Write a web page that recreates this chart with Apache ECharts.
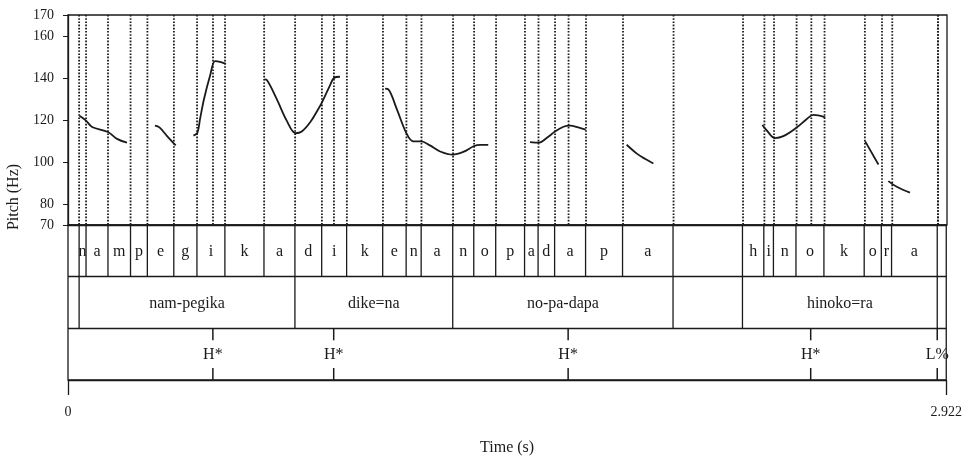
<!DOCTYPE html>
<html><head><meta charset="utf-8">
<script src="https://cdn.jsdelivr.net/npm/echarts@6/dist/echarts.min.js"></script>
<style>html,body{margin:0;padding:0;background:#fff}#c{width:965px;height:457px}</style>
</head><body><div id="c"></div>
<script>
const timeMax = 2.922;
const pitchTicks = [70, 80, 100, 120, 140, 160, 170];
const phoneBounds = [0, 0.037, 0.060, 0.133, 0.208, 0.264, 0.352, 0.429, 0.522, 0.652, 0.755, 0.844, 0.927, 1.047, 1.125, 1.175, 1.280, 1.350, 1.423, 1.519, 1.564, 1.619, 1.722, 1.845, 2.013, 2.244, 2.315, 2.347, 2.422, 2.515, 2.649, 2.706, 2.740, 2.892, 2.922];
const phoneLabels = ['', 'n', 'a', 'm', 'p', 'e', 'g', 'i', 'k', 'a', 'd', 'i', 'k', 'e', 'n', 'a', 'n', 'o', 'p', 'a', 'd', 'a', 'p', 'a', '', 'h', 'i', 'n', 'o', 'k', 'o', 'r', 'a', ''];
const wordBounds = [0, 0.037, 0.755, 1.280, 2.013, 2.244, 2.892, 2.922];
const wordLabels = ['', 'nam-pegika', 'dike=na', 'no-pa-dapa', '', 'hinoko=ra', ''];
const toneTimes = [0.482, 0.884, 1.664, 2.471, 2.892];
const toneLabels = ['H*', 'H*', 'H*', 'H*', 'L%'];

const pitchSeg1 = [[0.038,122.0],[0.060,119.7],[0.080,116.7],[0.133,114.3],[0.163,111.0],[0.196,109.2]];
const pitchSeg2 = [[0.289,117.3],[0.304,116.5],[0.328,112.6],[0.358,107.9]];
const pitchSeg3 = [[0.417,112.6],[0.430,113.9],[0.439,120.5],[0.452,129.9],[0.472,140.9],[0.489,148.0],[0.505,147.7],[0.525,146.7]];
const pitchSeg4 = [[0.653,139.3],[0.661,139.0],[0.694,129.9],[0.727,119.7],[0.757,113.7],[0.777,114.5],[0.805,118.9],[0.832,125.2],[0.843,128.0],[0.871,136.5],[0.884,140.0],[0.904,140.6]];
const pitchSeg5 = [[1.054,134.9],[1.065,134.6],[1.093,125.2],[1.126,113.4],[1.148,109.8],[1.174,109.8],[1.203,107.9],[1.237,105.0],[1.279,103.5],[1.314,104.8],[1.350,107.6],[1.370,108.2],[1.397,108.2]];
const pitchSeg6 = [[1.536,109.5],[1.566,109.2],[1.591,111.4],[1.619,114.5],[1.647,116.8],[1.669,117.3],[1.696,116.5],[1.721,115.4]];
const pitchSeg7 = [[1.857,108.2],[1.891,104.0],[1.918,101.5],[1.946,99.3]];
const pitchSeg8 = [[2.308,117.6],[2.323,115.0],[2.350,111.4],[2.378,112.3],[2.423,116.5],[2.456,120.5],[2.478,122.4],[2.517,121.3]];
const pitchSeg9 = [[2.650,109.8],[2.694,98.8]];
const pitchSeg10 = [[2.727,90.9],[2.755,88.2],[2.799,85.4]];
const pitchSegments = [pitchSeg1, pitchSeg2, pitchSeg3, pitchSeg4, pitchSeg5, pitchSeg6, pitchSeg7, pitchSeg8, pitchSeg9, pitchSeg10];

const SERIF = '"Liberation Serif", "DejaVu Serif", serif';
const INK = '#1a1a1a';
const TIER_FONT = '16px ' + SERIF;

function intervalData(bounds, tier) {
  const d = [];
  for (let i = 0; i < bounds.length - 1; i++) d.push([bounds[i], bounds[i + 1], tier]);
  return d;
}
function makeIntervalRender(labels) {
  return function (params, api) {
    const s = api.value(0), e = api.value(1), tier = api.value(2);
    const p0 = api.coord([s, tier]);
    const p1 = api.coord([e, tier + 1]);
    const children = [];
    if (s > 0) {
      children.push({ type: 'line', shape: { x1: p0[0], y1: p0[1], x2: p0[0], y2: p1[1] },
        style: { stroke: INK, lineWidth: 1.3 } });
    }
    const txt = labels[params.dataIndex];
    if (txt) {
      children.push({ type: 'text', x: (p0[0] + p1[0]) / 2, y: (p0[1] + p1[1]) / 2 + 1,
        style: { text: txt, align: 'center', verticalAlign: 'middle', font: TIER_FONT, fill: INK } });
    }
    return { type: 'group', children: children };
  };
}

const dottedTimes = phoneBounds.slice(1, -1).concat(toneTimes);

const chart = echarts.init(document.getElementById('c'), null, { renderer: 'canvas' });
const series = [];
pitchSegments.forEach(function (seg) {
  series.push({ type: 'line', xAxisIndex: 0, yAxisIndex: 0, data: seg, showSymbol: false, symbol: 'none',
    smooth: 0.35, lineStyle: { color: INK, width: 1.8 }, silent: true, z: 5 });
});
series.push({
  type: 'custom', xAxisIndex: 0, yAxisIndex: 0, data: dottedTimes.map(function (t) { return [t]; }), silent: true, z: 3,
  renderItem: function (params, api) {
    const t = api.value(0);
    const a = api.coord([t, 170]), b = api.coord([t, 70]);
    return { type: 'line', shape: { x1: a[0], y1: a[1], x2: b[0], y2: b[1] },
      style: { stroke: INK, lineWidth: 1.8, lineDash: [1.6, 1.6] } };
  }
});
series.push({ type: 'custom', xAxisIndex: 1, yAxisIndex: 1, data: intervalData(phoneBounds, 0), silent: true,
  renderItem: makeIntervalRender(phoneLabels) });
series.push({ type: 'custom', xAxisIndex: 1, yAxisIndex: 1, data: intervalData(wordBounds, 1), silent: true,
  renderItem: makeIntervalRender(wordLabels) });
series.push({
  type: 'custom', xAxisIndex: 1, yAxisIndex: 1, data: toneTimes.map(function (t) { return [t, 2]; }), silent: true,
  renderItem: function (params, api) {
    const t = api.value(0);
    const a = api.coord([t, 2]), b = api.coord([t, 3]);
    return { type: 'group', children: [
      { type: 'line', shape: { x1: a[0], y1: a[1], x2: a[0], y2: a[1] + 12 }, style: { stroke: INK, lineWidth: 1.5 } },
      { type: 'line', shape: { x1: a[0], y1: b[1] - 12, x2: a[0], y2: b[1] }, style: { stroke: INK, lineWidth: 1.5 } },
      { type: 'text', x: a[0], y: (a[1] + b[1]) / 2 + 1,
        style: { text: toneLabels[params.dataIndex], align: 'center', verticalAlign: 'middle', font: TIER_FONT, fill: INK } }
    ] };
  }
});

chart.setOption({
  animation: false,
  backgroundColor: '#fff',
  grid: [
    { left: 68, top: 15, width: 879, height: 210, show: true, borderColor: INK, borderWidth: 1.3, backgroundColor: 'transparent' },
    { left: 68, top: 225, width: 879, height: 155, show: true, borderColor: INK, borderWidth: 1.3, backgroundColor: 'transparent' }
  ],
  xAxis: [
    { type: 'value', gridIndex: 0, min: 0, max: timeMax, show: false },
    { type: 'value', gridIndex: 1, min: 0, max: timeMax, interval: timeMax, position: 'bottom',
      axisLine: { show: false, onZero: false },
      axisTick: { show: true, length: 15, lineStyle: { color: INK, width: 1.3 } },
      axisLabel: { show: true, showMinLabel: true, showMaxLabel: true, margin: 25, fontFamily: SERIF, fontSize: 14, color: INK,
        formatter: function (v) { return v === 0 ? '0' : timeMax.toFixed(3); } },
      splitLine: { show: false },
      name: 'Time (s)', nameLocation: 'middle', nameGap: 60,
      nameTextStyle: { fontFamily: SERIF, fontSize: 16, color: INK } }
  ],
  yAxis: [
    { type: 'value', gridIndex: 0, min: 70, max: 170,
      axisLine: { show: true, lineStyle: { color: INK, width: 1.3 } },
      axisTick: { show: true, length: 5, customValues: pitchTicks, lineStyle: { color: INK } },
      axisLabel: { show: true, customValues: pitchTicks, margin: 14, fontFamily: SERIF, fontSize: 14, color: INK },
      splitLine: { show: false } },
    { type: 'value', gridIndex: 1, min: 0, max: 3, interval: 1, inverse: true,
      axisLine: { show: false, onZero: false }, axisTick: { show: false }, axisLabel: { show: false },
      splitLine: { show: true, lineStyle: { color: INK, width: 1.3 } } }
  ],
  graphic: [
    { type: 'text', x: 14, y: 197, rotation: Math.PI / 2,
      style: { text: 'Pitch (Hz)', align: 'center', verticalAlign: 'middle', font: '16px ' + SERIF, fill: INK } }
  ],
  series: series
});
</script>
</body></html>
